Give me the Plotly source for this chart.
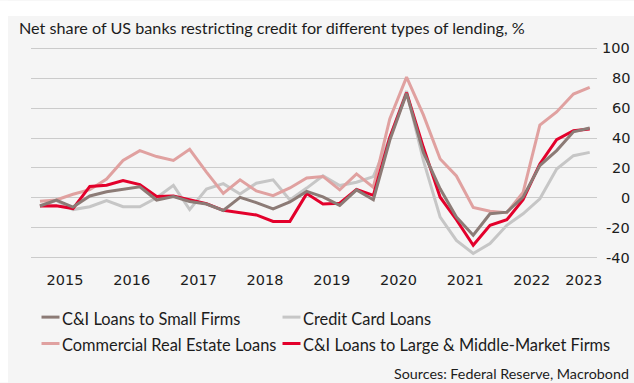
import plotly.graph_objects as go

# Quarterly survey dates (release months of the Senior Loan Officer Survey)
dates = [
    "2015-02-15", "2015-05-15", "2015-08-15", "2015-11-15",
    "2016-02-15", "2016-05-15", "2016-08-15", "2016-11-15",
    "2017-02-15", "2017-05-15", "2017-08-15", "2017-11-15",
    "2018-02-15", "2018-05-15", "2018-08-15", "2018-11-15",
    "2019-02-15", "2019-05-15", "2019-08-15", "2019-11-15",
    "2020-02-15", "2020-05-15", "2020-08-15", "2020-11-15",
    "2021-02-15", "2021-05-15", "2021-08-15", "2021-11-15",
    "2022-02-15", "2022-05-15", "2022-08-15", "2022-11-15",
    "2023-02-15", "2023-05-15",
]

small_firms = [
    -5.5, -1.5, -6.2, 1.2, 4.0, 5.8, 7.4, -1.5, 0.8, -2.5, -4.2, -8.5,
    0.3, -3.2, -7.5, -2.8, 4.3, 0.6, -5.1, 5.3, -1.3, 38.5, 69.8, 30.4,
    6.0, -12.9, -25.1, -10.7, -9.6, 0.4, 21.6, 31.6, 44.2, 46.7,
]
credit_card = [
    -5.3, -1.8, -7.9, -6.0, -1.8, -6.0, -6.0, 0.0, 8.3, -7.9, 5.8, 9.5,
    2.5, 9.8, 12.0, -1.5, 6.5, 14.8, 8.2, 10.4, 14.2, 40.0, 71.5, 25.0,
    -13.0, -28.5, -37.3, -30.7, -18.4, -10.7, -0.7, 19.3, 28.2, 30.4,
]
commercial_re = [
    -2.3, -1.5, 2.4, 5.4, 12.6, 25.0, 31.6, 27.6, 25.0, 32.5, 17.2, 3.0,
    12.0, 4.6, 1.4, 6.6, 13.2, 14.3, 5.3, 16.0, 7.0, 52.8, 80.8, 55.5,
    26.0, 14.6, -6.5, -9.0, -10.0, 3.5, 48.7, 57.5, 69.5, 74.0,
]
large_firms = [
    -5.5, -5.4, -7.2, 7.6, 8.4, 11.6, 8.8, 0.8, 1.2, -1.5, -4.0, -8.4,
    -10.0, -11.5, -15.8, -15.8, 2.8, -4.2, -3.6, 5.6, 1.6, 40.4, 70.4, 33.8,
    0.4, -14.7, -31.8, -18.4, -14.7, -1.3, 22.7, 38.9, 44.9, 46.0,
]

year_labels = ["2015", "2016", "2017", "2018", "2019", "2020", "2021", "2022", "2023"]
year_label_dates = [
    "2015-07-02", "2016-07-02", "2017-07-02", "2018-07-02", "2019-07-02",
    "2020-07-02", "2021-07-02", "2022-07-02", "2023-04-12",
]
y_ticks = [100, 80, 60, 40, 20, 0, -20, -40]

series_names = [
    "C&I Loans to Small Firms",
    "Credit Card Loans",
    "Commercial Real Estate Loans",
    "C&I Loans to Large & Middle-Market Firms",
]
series_values = [small_firms, credit_card, commercial_re, large_firms]
series_colors = ["#8c7b76", "#c6c6c6", "#e0a1a0", "#e3002b"]
draw_order = [1, 2, 3, 0]

W, H = 634, 383
ML, MR, MT, MB = 31, 37, 46.5, 123.8
PW = W - ML - MR
PH = H - MT - MB
BG = "#f5f5f5"
TXT = "#1c1c1c"
TEXT_FONT = "Lato"
NUM_FONT = "DejaVu Sans"


def px_x(px):
    return (px - ML) / PW


def px_y(py):
    return (H - MB - py) / PH


fig = go.Figure()
for i in draw_order:
    fig.add_trace(go.Scatter(
        x=dates, y=series_values[i], name=series_names[i], mode="lines",
        line=dict(color=series_colors[i], width=3),
        showlegend=False,
    ))

shapes = [
    # white strip above and left of the grey panel
    dict(type="rect", xref="paper", yref="paper", x0=px_x(0), x1=px_x(W),
         y0=px_y(15.5), y1=px_y(0), fillcolor="white", line=dict(width=0), layer="below"),
    dict(type="rect", xref="paper", yref="paper", x0=px_x(0), x1=px_x(8),
         y0=px_y(H), y1=px_y(0), fillcolor="white", line=dict(width=0), layer="below"),
]

annotations = [
    dict(text="Net share of US banks restricting credit for different types of lending, %",
         xref="paper", yref="paper", x=px_x(17), y=px_y(26.5), xanchor="left", yanchor="middle",
         showarrow=False, font=dict(family=TEXT_FONT, size=16.2, color=TXT)),
    dict(text="Sources: Federal Reserve, Macrobond",
         xref="paper", yref="paper", x=px_x(631), y=px_y(374.5), xanchor="right", yanchor="middle",
         showarrow=False, font=dict(family=TEXT_FONT, size=14.3, color=TXT)),
]

for v in y_ticks:
    annotations.append(dict(
        text=str(v), xref="paper", yref="y", x=px_x(632), y=v,
        xanchor="right", yanchor="middle", showarrow=False,
        font=dict(family=NUM_FONT, size=14.5, color=TXT)))

# legend drawn as short line samples followed by labels
legend_slots = [
    (0, 41.5, 317.5), (1, 282.5, 317.5),
    (2, 41.5, 344), (3, 282.5, 344),
]
for idx, lx, ly in legend_slots:
    shapes.append(dict(type="line", xref="paper", yref="paper",
                       x0=px_x(lx), x1=px_x(lx + 18), y0=px_y(ly), y1=px_y(ly),
                       line=dict(color=series_colors[idx], width=3)))
    annotations.append(dict(
        text=series_names[idx], xref="paper", yref="paper",
        x=px_x(lx + 18), y=px_y(ly + 1), xanchor="left", yanchor="middle",
        showarrow=False, font=dict(family=TEXT_FONT, size=16.4, color=TXT)))

fig.update_layout(
    width=W, height=H,
    margin=dict(l=ML, r=MR, t=MT, b=MB, pad=0),
    paper_bgcolor=BG, plot_bgcolor=BG,
    showlegend=False,
    shapes=shapes,
    annotations=annotations,
    xaxis=dict(
        type="date", range=["2014-12-28", "2023-06-24"],
        tickmode="array", tickvals=year_label_dates, ticktext=year_labels,
        showgrid=False, zeroline=False, showline=False,
        ticks="outside", ticklen=8, tickcolor="rgba(0,0,0,0)",
        tickfont=dict(family=NUM_FONT, size=14.5, color=TXT),
    ),
    yaxis=dict(
        range=[-41, 101], tickmode="array", tickvals=y_ticks,
        showticklabels=False, showgrid=True, gridcolor="#cbcbcb", gridwidth=1.3,
        zeroline=False, showline=False,
    ),
)

fig.write_html("out.html")
